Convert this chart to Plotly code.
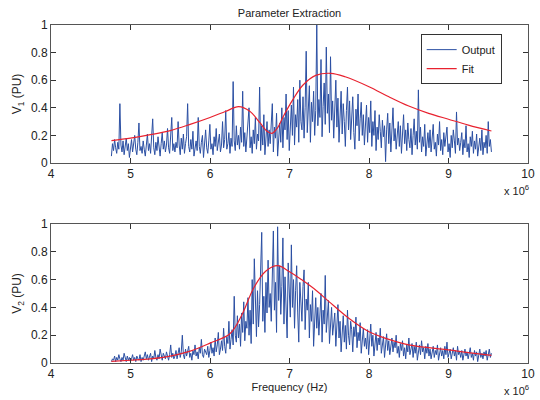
import numpy as np
import plotly.graph_objects as go

# Measured response magnitudes (PU), uniformly sampled from 4.76 MHz to 9.54 MHz
v1_output = [
    0.05, 0.14, 0.09, 0.17, 0.11, 0.07, 0.15, 0.10, 0.43, 0.13, 0.08, 0.16, 0.06, 0.12, 0.18, 0.09, 0.14, 0.04, 0.11, 0.17, 0.08, 0.13, 0.20, 0.10, 0.06, 0.15, 0.29, 0.09, 0.12, 0.07,
    0.16, 0.10, 0.05, 0.13, 0.21, 0.09, 0.14, 0.07, 0.18, 0.32, 0.11, 0.06, 0.15, 0.09, 0.19, 0.12, 0.05, 0.14, 0.22, 0.10, 0.16, 0.08, 0.13, 0.25, 0.11, 0.07, 0.17, 0.33, 0.09, 0.14,
    0.08, 0.15, 0.11, 0.30, 0.13, 0.06, 0.18, 0.10, 0.21, 0.07, 0.14, 0.19, 0.43, 0.12, 0.08, 0.17, 0.10, 0.23, 0.05, 0.13, 0.16, 0.09, 0.33, 0.12, 0.07, 0.15, 0.20, 0.04, 0.13, 0.24,
    0.11, 0.07, 0.16, 0.28, 0.10, 0.14, 0.06, 0.19, 0.12, 0.25, 0.09, 0.15, 0.21, 0.08, 0.13, 0.30, 0.11, 0.17, 0.38, 0.10, 0.14, 0.22, 0.07, 0.18, 0.12, 0.59, 0.16, 0.09, 0.27, 0.13,
    0.20, 0.10, 0.26, 0.15, 0.52, 0.12, 0.22, 0.08, 0.18, 0.29, 0.40, 0.11, 0.19, 0.07, 0.24, 0.14, 0.33, 0.10, 0.21, 0.16, 0.55, 0.09, 0.27, 0.13, 0.35, 0.06, 0.20, 0.30, 0.12, 0.24,
    0.14, 0.31, 0.43, 0.08, 0.26, 0.18, 0.36, 0.05, 0.22, 0.29, 0.15, 0.40, 0.11, 0.33, 0.24, 0.50, 0.17, 0.38, 0.09, 0.28, 0.42, 0.20, 0.55, 0.13, 0.35, 0.26, 0.46, 0.15, 0.60, 0.30,
    0.24, 0.48, 0.18, 0.40, 0.81, 0.22, 0.35, 0.56, 0.15, 0.44, 0.30, 0.52, 0.20, 0.38, 1.00, 0.27, 0.46, 0.33, 0.75, 0.19, 0.41, 0.58, 0.28, 0.84, 0.36, 0.50, 0.22, 0.77, 0.31, 0.45,
    0.18, 0.40, 0.60, 0.26, 0.47, 0.15, 0.36, 0.52, 0.21, 0.43, 0.30, 0.12, 0.38, 0.55, 0.24, 0.45, 0.17, 0.34, 0.48, 0.22, 0.10, 0.39, 0.27, 0.50, 0.16, 0.32, 0.44, 0.20, 0.35, 0.13,
    0.28, 0.42, 0.15, 0.33, 0.22, 0.45, 0.12, 0.30, 0.20, 0.38, 0.09, 0.26, 0.17, 0.35, 0.23, 0.11, 0.31, 0.19, 0.27, 0.01, 0.24, 0.36, 0.14, 0.29, 0.08, 0.21, 0.40, 0.16, 0.25, 0.10,
    0.22, 0.30, 0.12, 0.27, 0.07, 0.19, 0.35, 0.14, 0.24, 0.09, 0.29, 0.17, 0.11, 0.25, 0.06, 0.20, 0.32, 0.13, 0.23, 0.10, 0.53, 0.15, 0.26, 0.08, 0.19, 0.12, 0.28, 0.05, 0.17, 0.22,
    0.11, 0.24, 0.08, 0.18, 0.28, 0.10, 0.15, 0.05, 0.21, 0.13, 0.30, 0.09, 0.17, 0.06, 0.22, 0.12, 0.19, 0.26, 0.08, 0.14, 0.04, 0.20, 0.11, 0.24, 0.16, 0.07, 0.37, 0.13, 0.18, 0.09,
    0.15, 0.22, 0.06, 0.17, 0.11, 0.27, 0.08, 0.14, 0.04, 0.19, 0.12, 0.23, 0.07, 0.16, 0.10, 0.21, 0.05, 0.13, 0.18, 0.09, 0.24, 0.06, 0.15, 0.11, 0.20, 0.07, 0.30, 0.12, 0.17, 0.08,
]

v2_output = [
    0.01, 0.03, 0.02, 0.05, 0.01, 0.04, 0.02, 0.06, 0.03, 0.01, 0.04, 0.02, 0.07, 0.03, 0.01, 0.05, 0.02, 0.04, 0.01, 0.03, 0.06, 0.02, 0.04, 0.01, 0.05, 0.03, 0.02, 0.06, 0.01, 0.04,
    0.02, 0.05, 0.08, 0.03, 0.06, 0.02, 0.04, 0.07, 0.01, 0.05, 0.03, 0.09, 0.04, 0.02, 0.06, 0.03, 0.10, 0.05, 0.02, 0.07, 0.04, 0.03, 0.08, 0.05, 0.02, 0.06, 0.13, 0.04, 0.07, 0.03,
    0.05, 0.09, 0.03, 0.07, 0.11, 0.04, 0.08, 0.20, 0.06, 0.03, 0.10, 0.05, 0.08, 0.12, 0.04, 0.07, 0.02, 0.09, 0.06, 0.13, 0.05, 0.08, 0.03, 0.11, 0.07, 0.17, 0.06, 0.04, 0.10, 0.08,
    0.06, 0.12, 0.04, 0.09, 0.15, 0.07, 0.11, 0.05, 0.18, 0.08, 0.13, 0.22, 0.06, 0.10, 0.16, 0.09, 0.25, 0.12, 0.07, 0.19, 0.14, 0.30, 0.10, 0.17, 0.24, 0.13, 0.48, 0.20, 0.15, 0.34,
    0.18, 0.28, 0.12, 0.36, 0.22, 0.44, 0.16, 0.30, 0.25, 0.47, 0.20, 0.38, 0.14, 0.60, 0.28, 0.75, 0.33, 0.19, 0.52, 0.26, 0.42, 0.68, 0.94, 0.30, 0.48, 0.22, 0.58, 0.36, 0.74, 0.40,
    0.50, 0.30, 0.66, 0.95, 0.38, 0.58, 0.22, 0.98, 0.45, 0.70, 0.35, 0.55, 0.90, 0.28, 0.62, 0.42, 0.18, 0.72, 0.50, 0.33, 0.85, 0.40, 0.60, 0.25, 0.52, 0.70, 0.36, 0.15, 0.58, 0.44,
    0.30, 0.55, 0.67, 0.24, 0.46, 0.38, 0.58, 0.18, 0.42, 0.30, 0.52, 0.12, 0.36, 0.47, 0.25, 0.40, 0.20, 0.34, 0.50, 0.15, 0.38, 0.28, 0.63, 0.22, 0.33, 0.45, 0.14, 0.30, 0.40, 0.20,
    0.28, 0.36, 0.12, 0.25, 0.42, 0.18, 0.30, 0.08, 0.22, 0.34, 0.15, 0.27, 0.10, 0.38, 0.20, 0.13, 0.30, 0.24, 0.08, 0.26, 0.19, 0.33, 0.11, 0.22, 0.16, 0.29, 0.07, 0.20, 0.25, 0.12,
    0.18, 0.10, 0.24, 0.06, 0.16, 0.28, 0.12, 0.20, 0.05, 0.15, 0.22, 0.09, 0.18, 0.13, 0.25, 0.07, 0.14, 0.19, 0.04, 0.12, 0.21, 0.09, 0.16, 0.06, 0.13, 0.18, 0.08, 0.15, 0.11, 0.20,
    0.07, 0.12, 0.04, 0.14, 0.09, 0.16, 0.05, 0.11, 0.03, 0.13, 0.08, 0.18, 0.06, 0.10, 0.14, 0.04, 0.12, 0.07, 0.15, 0.02, 0.09, 0.13, 0.06, 0.16, 0.08, 0.11, 0.03, 0.12, 0.07, 0.14,
    0.05, 0.10, 0.03, 0.08, 0.12, 0.04, 0.09, 0.06, 0.13, 0.02, 0.08, 0.11, 0.05, 0.09, 0.03, 0.12, 0.06, 0.15, 0.04, 0.08, 0.10, 0.03, 0.07, 0.11, 0.05, 0.09, 0.02, 0.12, 0.06, 0.08,
    0.04, 0.09, 0.02, 0.07, 0.10, 0.05, 0.08, 0.03, 0.06, 0.11, 0.04, 0.07, 0.02, 0.09, 0.05, 0.08, 0.01, 0.06, 0.10, 0.04, 0.07, 0.03, 0.08, 0.05, 0.09, 0.02, 0.06, 0.10, 0.04, 0.07,
]

f_start_hz = 4.76e6
f_stop_hz = 9.54e6

# Fitted model curves (frequency in MHz, magnitude in PU)
fit1_f_mhz = [4.76, 5.0, 5.25, 5.5, 5.75, 6.0, 6.2, 6.36, 6.5, 6.63, 6.71, 6.78, 6.85, 6.92, 7.04,
              7.17, 7.33, 7.52, 7.7, 8.0, 8.25, 8.5, 8.75, 9.0, 9.25, 9.54]
fit1_v = [0.162, 0.18, 0.205, 0.235, 0.28, 0.33, 0.375, 0.408, 0.375, 0.29, 0.234, 0.215, 0.255, 0.335, 0.457,
          0.565, 0.635, 0.65, 0.625, 0.553, 0.48, 0.413, 0.36, 0.317, 0.275, 0.232]

fit2_f_mhz = [4.76, 5.0, 5.25, 5.5, 5.75, 6.0, 6.25, 6.4, 6.55, 6.7, 6.85, 7.0, 7.15, 7.34, 7.5,
              7.75, 8.0, 8.25, 8.5, 8.75, 9.0, 9.25, 9.54]
fit2_v = [0.012, 0.02, 0.03, 0.05, 0.085, 0.143, 0.21, 0.345, 0.54, 0.66, 0.70, 0.657, 0.60, 0.52, 0.44,
          0.32, 0.225, 0.17, 0.13, 0.11, 0.094, 0.075, 0.055]

x_ticks = [4, 5, 6, 7, 8, 9, 10]
y_ticks = [0, 0.2, 0.4, 0.6, 0.8, 1]

BLUE = "#2b4fa3"
RED = "#e8222f"
FONT = "Liberation Sans, Arial, sans-serif"

f1_hz = np.linspace(f_start_hz, f_stop_hz, len(v1_output))
f2_hz = np.linspace(f_start_hz, f_stop_hz, len(v2_output))

fig = go.Figure()
fig.add_trace(go.Scatter(x=f1_hz, y=v1_output, mode="lines", name="Output",
                         line=dict(color=BLUE, width=1), xaxis="x", yaxis="y"))
fig.add_trace(go.Scatter(x=[f * 1e6 for f in fit1_f_mhz], y=fit1_v, mode="lines", name="Fit",
                         line=dict(color=RED, width=1.2, shape="spline", smoothing=1.0),
                         xaxis="x", yaxis="y"))
fig.add_trace(go.Scatter(x=f2_hz, y=v2_output, mode="lines", name="Output", showlegend=False,
                         line=dict(color=BLUE, width=1), xaxis="x2", yaxis="y2"))
fig.add_trace(go.Scatter(x=[f * 1e6 for f in fit2_f_mhz], y=fit2_v, mode="lines", name="Fit",
                         showlegend=False,
                         line=dict(color=RED, width=1.2, shape="spline", smoothing=1.0),
                         xaxis="x2", yaxis="y2"))

axis_common = dict(
    showgrid=False, zeroline=False, showline=True, linecolor="#555555", linewidth=1,
    mirror="ticks", ticks="inside", ticklen=5, tickcolor="#333333",
    tickfont=dict(family=FONT, size=12, color="#222222"),
)
xaxis_common = dict(axis_common, range=[4e6, 10e6], ticklabeloverflow="allow",
                    tickvals=[t * 1e6 for t in x_ticks], ticktext=[str(t) for t in x_ticks])
yaxis_common = dict(axis_common, range=[0, 1], tickvals=y_ticks,
                    ticktext=["0", "0.2", "0.4", "0.6", "0.8", "1"])

fig.update_layout(
    width=540, height=400,
    margin=dict(l=51, r=5, t=25, b=37),
    paper_bgcolor="white", plot_bgcolor="white",
    font=dict(family=FONT, size=12, color="#222222"),
    xaxis=dict(xaxis_common, domain=[0, 1], anchor="y"),
    yaxis=dict(yaxis_common, domain=[0.5917, 1], anchor="x",
               title=dict(text="V<sub>1</sub> (PU)", standoff=6,
                          font=dict(family=FONT, size=12))),
    xaxis2=dict(xaxis_common, domain=[0, 1], anchor="y2",
                title=dict(text="Frequency (Hz)", standoff=2,
                           font=dict(family=FONT, size=11))),
    yaxis2=dict(yaxis_common, domain=[0, 0.4112], anchor="x2",
                title=dict(text="V<sub>2</sub> (PU)", standoff=6,
                           font=dict(family=FONT, size=12))),
    title=dict(text="Parameter Extraction", x=0.5, xref="paper", xanchor="center",
               y=1 - 13 / 400, yref="container", yanchor="middle",
               font=dict(family=FONT, size=11, color="#222222")),
    legend=dict(x=0.775, y=0.973, xanchor="left", yanchor="top",
                bordercolor="#333333", borderwidth=1, bgcolor="white",
                font=dict(family=FONT, size=11, color="#222222"),
                tracegroupgap=0),
    showlegend=True,
)

# Frequency scale multiplier under each x axis
for y_px in [190, 390]:
    fig.add_annotation(text="x 10<sup>6</sup>", xref="paper", yref="paper",
                       x=(538 - 51) / 484, y=(363 - y_px) / 338, xanchor="right", yanchor="middle",
                       showarrow=False, font=dict(family=FONT, size=11, color="#222222"))

fig.write_html("out.html")
